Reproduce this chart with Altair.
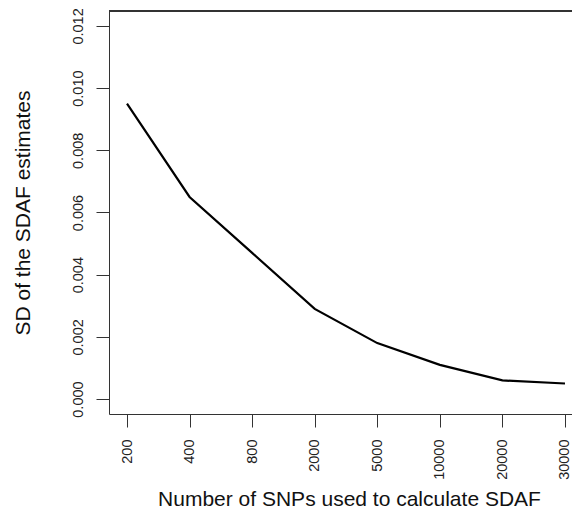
import altair as alt
import pandas as pd

snps = ["200", "400", "800", "2000", "5000", "10000", "20000", "30000"]
sd_values = [0.0095, 0.0065, 0.0047, 0.0029, 0.0018, 0.0011, 0.0006, 0.0005]
y_ticks = [0.000, 0.002, 0.004, 0.006, 0.008, 0.010, 0.012]

df = pd.DataFrame({
    "snps": snps,
    "pos": list(range(1, len(snps) + 1)),
    "sd": sd_values,
})

W, H = 463, 403
FONT = "Liberation Sans"
AXC = "#333333"
label_expr = "[" + ",".join("'%s'" % s for s in snps) + "][datum.value - 1]"

x_enc = alt.X(
    "pos:Q",
    scale=alt.Scale(domain=[0.7123, 8.112], nice=False, zero=False),
    axis=alt.Axis(
        values=list(range(1, len(snps) + 1)),
        labelExpr=label_expr,
        labelAngle=270,
        labelAlign="right",
        labelBaseline="middle",
        labelPadding=12,
        labelFontSize=14.5,
        labelFont=FONT,
        labelColor="#222222",
        tickSize=13,
        tickColor=AXC,
        domainColor=AXC,
        grid=False,
        title="Number of SNPs used to calculate SDAF",
        titleFont=FONT,
        titleFontSize=21,
        titleFontWeight="normal",
        titleColor="#111111",
        titleX=240,
        titleY=85,
        titleAlign="center",
        titleBaseline="middle",
        labelOverlap=False,
        labelFlush=False,
    ),
)

y_enc = alt.Y(
    "sd:Q",
    scale=alt.Scale(domain=[-0.00048, 0.01248], nice=False, zero=False),
    axis=alt.Axis(
        values=y_ticks,
        format=".3f",
        labelAngle=270,
        labelAlign="center",
        labelBaseline="bottom",
        labelPadding=11,
        labelFontSize=14.5,
        labelFont=FONT,
        labelColor="#222222",
        tickSize=13,
        tickColor=AXC,
        domainColor=AXC,
        grid=False,
        title="SD of the SDAF estimates",
        titleFont=FONT,
        titleFontSize=21,
        titleFontWeight="normal",
        titleColor="#111111",
        titleAngle=270,
        titleX=-86,
        titleY=H / 2,
        titleAlign="center",
        titleBaseline="middle",
        labelOverlap=False,
        labelFlush=False,
    ),
)

line = alt.Chart(df).mark_line(color="black", strokeWidth=2.2).encode(x=x_enc, y=y_enc)

top_border = alt.Chart(df).mark_rule(color=AXC, strokeWidth=1).encode(
    x=alt.value(0), x2=alt.value(W), y=alt.value(0)
)

chart = (
    alt.layer(line, top_border)
    .properties(
        width=W,
        height=H,
        autosize=alt.AutoSizeParams(type="none"),
        padding={"left": 101, "top": 3, "right": 0, "bottom": 95},
        background="white",
    )
    .configure_view(strokeWidth=0)
)

chart.save("out.html", embed_options={"renderer": "svg", "actions": False})
